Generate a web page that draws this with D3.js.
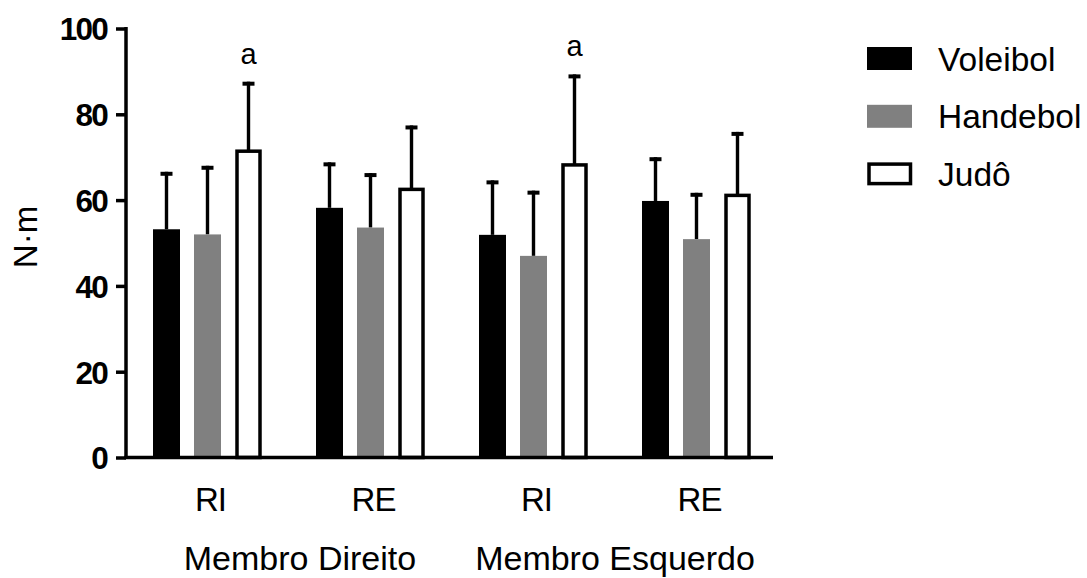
<!DOCTYPE html>
<html>
<head>
<meta charset="utf-8">
<script src="https://cdn.jsdelivr.net/npm/d3@7"></script>
<style>
  html, body { margin: 0; padding: 0; background: #fff; }
  svg { display: block; font-family: "Liberation Sans", Arial, sans-serif; }
</style>
</head>
<body>
<svg id="chart" width="1087" height="578"></svg>
<script>
// ---- data ----
const categories = ["RI-D", "RE-D", "RI-E", "RE-E"];
const categoryLabels = ["RI", "RE", "RI", "RE"];
const groupLabels = ["Membro Direito", "Membro Esquerdo"];
const series = ["Voleibol", "Handebol", "Judô"];
const voleibolMean = [53.2, 58.2, 51.9, 59.8];
const voleibolSD   = [13.4, 10.6, 12.7, 10.2];
const handebolMean = [52.0, 53.6, 47.0, 50.9];
const handebolSD   = [16.0, 12.7, 15.2, 10.8];
const judoMean     = [71.4, 62.5, 68.2, 61.1];
const judoSD       = [16.2, 14.9, 21.1, 14.8];
const judoMarks    = ["a", "", "a", ""];
const yTicks = [0, 20, 40, 60, 80, 100];

const means = [voleibolMean, handebolMean, judoMean];
const sds = [voleibolSD, handebolSD, judoSD];
const colors = ["#000000", "#808080", "#ffffff"];

const svg = d3.select("#chart");

const y = d3.scaleLinear().domain([0, 100]).range([457.5, 28.5]);
const x = d3.scaleBand().domain(categories).range([126, 778]).padding(0);
const xi = d3.scaleBand().domain(series).range([-61.5, 61.5])
  .paddingInner(14 / 41).paddingOuter(7 / 41);

const font = '"Liberation Sans", Arial, sans-serif';

// bars
categories.forEach((c, ci) => {
  series.forEach((s, si) => {
    const cx = x(c) + x.bandwidth() / 2 + xi(s) + xi.bandwidth() / 2;
    const m = means[si][ci];
    const top = m + sds[si][ci];
    const g = svg.append("g");
    g.append("line")
      .attr("x1", cx).attr("x2", cx)
      .attr("y1", y(m)).attr("y2", y(top))
      .attr("stroke", "#000").attr("stroke-width", 3.4);
    g.append("line")
      .attr("x1", cx - 6).attr("x2", cx + 6)
      .attr("y1", y(top) + 2).attr("y2", y(top) + 2)
      .attr("stroke", "#000").attr("stroke-width", 4);
    if (si === 2) {
      const w = xi.bandwidth() - 4;
      g.append("rect")
        .attr("x", cx - w / 2).attr("width", w)
        .attr("y", y(m)).attr("height", y(0) - y(m))
        .attr("fill", "#fff").attr("stroke", "#000").attr("stroke-width", 3.5);
      if (judoMarks[ci]) {
        svg.append("text")
          .attr("x", cx).attr("y", y(top) - 18)
          .attr("text-anchor", "middle")
          .attr("font-size", 29).attr("fill", "#000")
          .text(judoMarks[ci]);
      }
    } else {
      g.append("rect")
        .attr("x", cx - xi.bandwidth() / 2).attr("width", xi.bandwidth())
        .attr("y", y(m)).attr("height", y(0) - y(m))
        .attr("fill", colors[si]);
    }
  });
});

// y axis
const yAxis = d3.axisLeft(y).tickValues(yTicks).tickSize(10).tickPadding(9);
const ya = svg.append("g").attr("transform", "translate(126,0)").call(yAxis);
ya.select(".domain").attr("d", `M0,${y(100) - 1.5}V${y(0)}`).attr("stroke", "#000").attr("stroke-width", 3.5);
ya.selectAll(".tick line").attr("stroke", "#000").attr("stroke-width", 3.5);
ya.selectAll(".tick text")
  .attr("font-family", font).attr("font-size", 31.5).attr("font-weight", "bold")
  .attr("fill", "#000").attr("letter-spacing", -1.8).attr("dy", "0.36em");

// x axis
const xAxis = d3.axisBottom(x).tickSize(0).tickPadding(30)
  .tickFormat((d, i) => categoryLabels[i]);
const xa = svg.append("g").attr("transform", `translate(0,${y(0)})`).call(xAxis);
xa.select(".domain").attr("d", "M124.25,0H773").attr("stroke", "#000").attr("stroke-width", 3.5);
xa.selectAll(".tick text")
  .attr("font-family", font).attr("font-size", 33).attr("fill", "#000")
  .attr("letter-spacing", -1).attr("dx", 3);

// group labels
const groupCenters = [
  (x(categories[0]) + x(categories[1])) / 2 + x.bandwidth() / 2 + 11,
  (x(categories[2]) + x(categories[3])) / 2 + x.bandwidth() / 2
];
groupLabels.forEach((t, i) => {
  svg.append("text")
    .attr("x", groupCenters[i]).attr("y", 570)
    .attr("text-anchor", "middle")
    .attr("font-size", 34).attr("fill", "#000")
    .text(t);
});

// y label
svg.append("text")
  .attr("transform", "translate(37,237) rotate(-90)")
  .attr("text-anchor", "middle")
  .attr("font-size", 33).attr("fill", "#000")
  .text("N·m");

// legend
const legend = svg.append("g");
series.forEach((s, i) => {
  const cy = 58.5 + i * 57.8;
  if (i === 2) {
    legend.append("rect").attr("x", 869).attr("y", cy - 10)
      .attr("width", 41.5).attr("height", 19.5)
      .attr("fill", "#fff").attr("stroke", "#000").attr("stroke-width", 3.5);
  } else {
    legend.append("rect").attr("x", 867).attr("y", cy - 11.5)
      .attr("width", 45).attr("height", 23).attr("fill", colors[i]);
  }
  legend.append("text").attr("x", 938).attr("y", cy).attr("dy", "0.36em")
    .attr("font-size", 33.5).attr("fill", "#000").text(s);
});
</script>
</body>
</html>
